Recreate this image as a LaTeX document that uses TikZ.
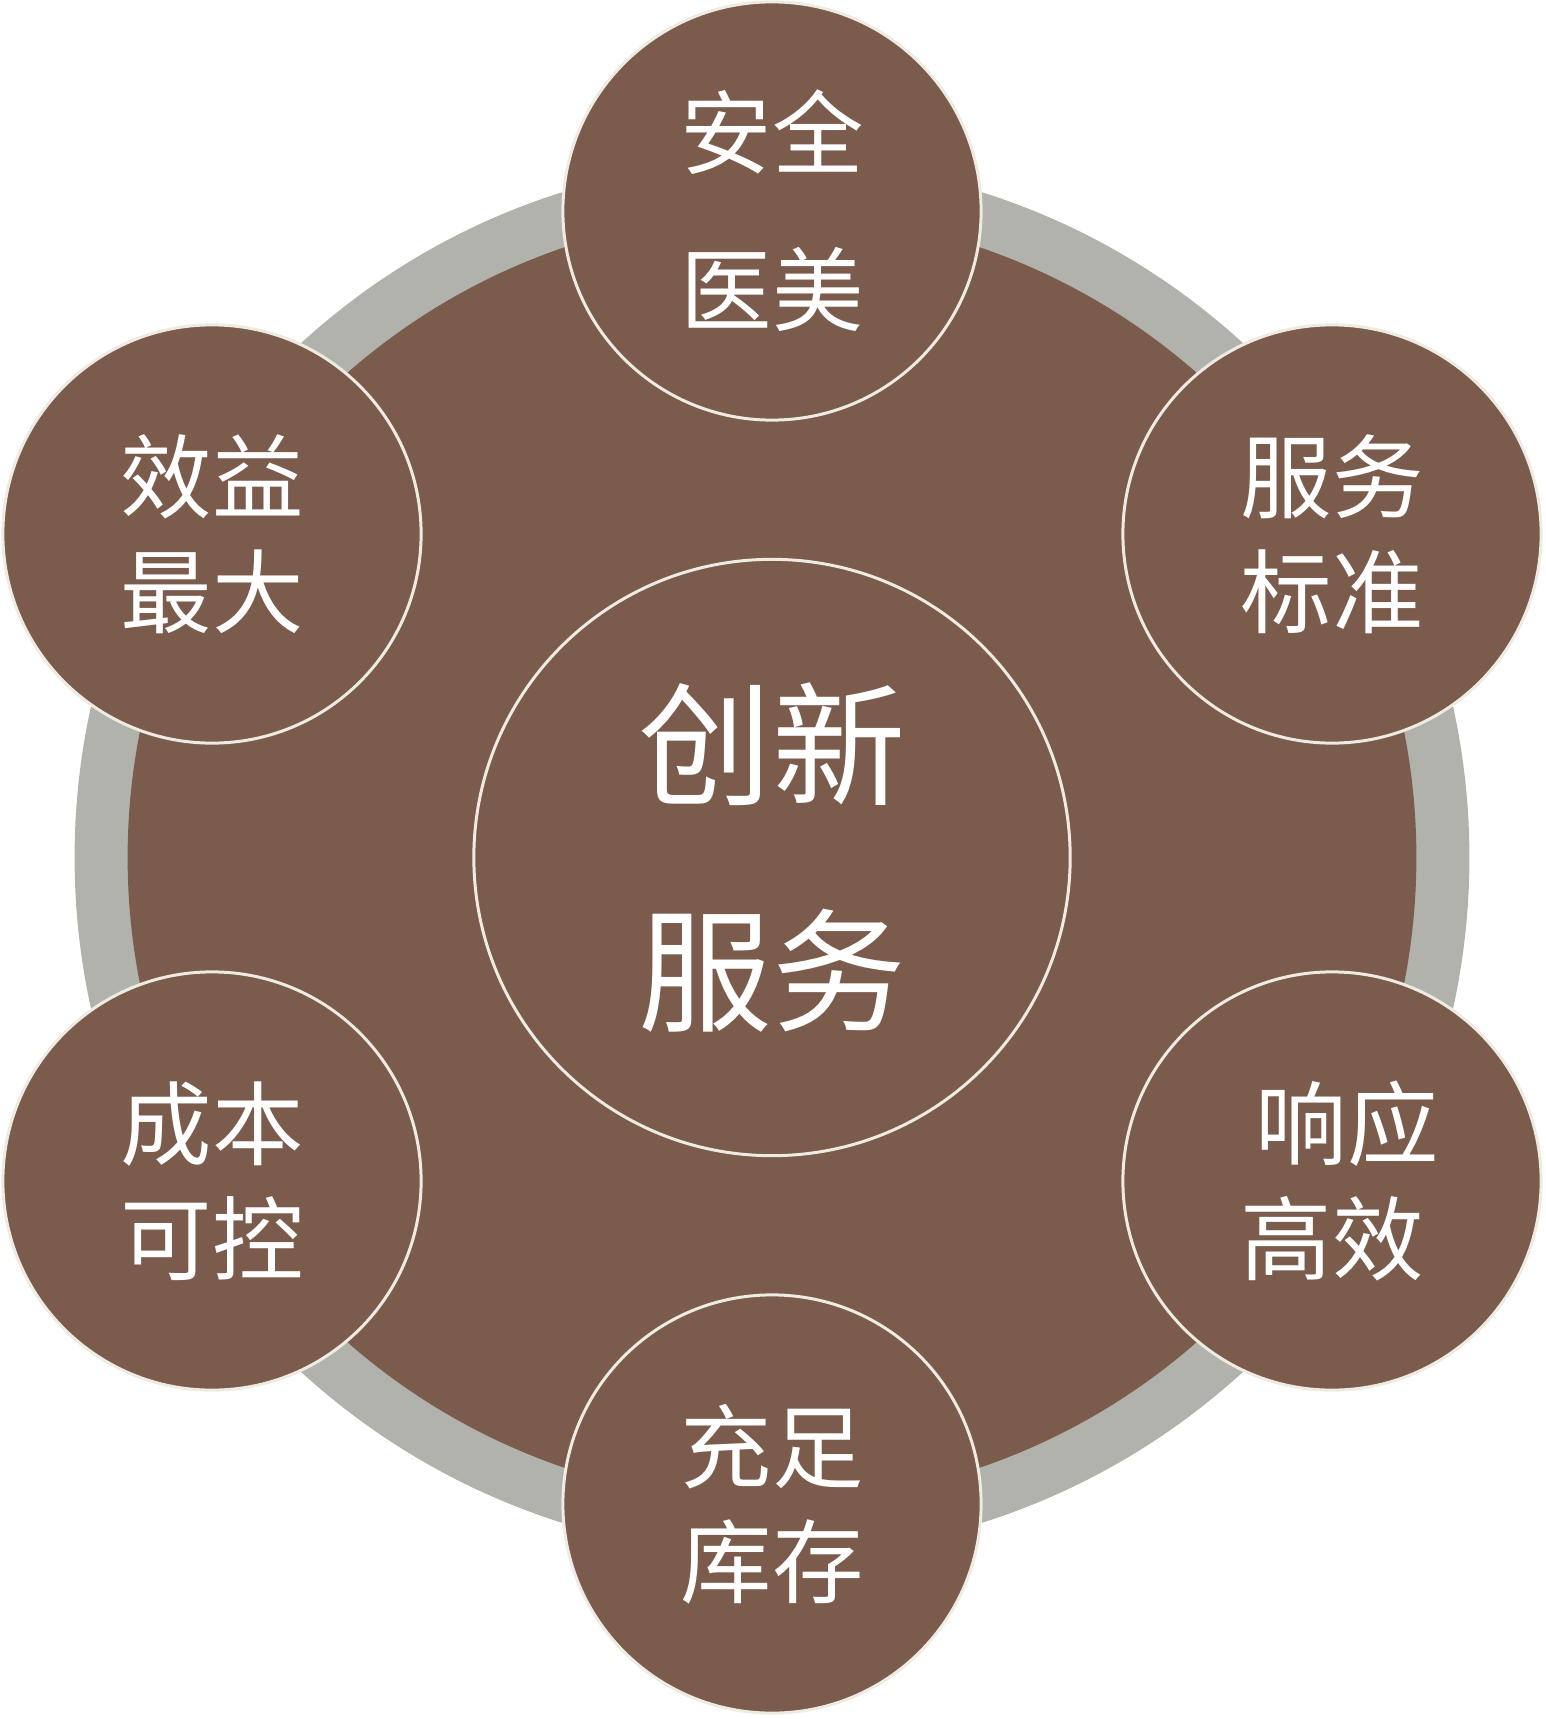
\documentclass[tikz,border=0pt]{standalone}
\usepackage{fontspec}
\setmainfont{Noto Sans CJK SC}
\definecolor{brownf}{HTML}{7B5B4B}
\definecolor{ringg}{HTML}{B1B2AC}
\definecolor{rimc}{HTML}{EEEBE2}
\tikzset{
  petal/.style={circle, inner sep=0pt, minimum size=4.18cm, fill=brownf, draw=rimc, line width=0.85pt, text=white, align=center, font=\fontsize{26pt}{32.7pt}\selectfont},
  hub/.style={circle, inner sep=0pt, minimum size=5.96cm, fill=brownf, draw=rimc, line width=0.85pt, text=white, align=center, font=\fontsize{38pt}{64pt}\selectfont},
}
\begin{document}
\begin{tikzpicture}[x=0.01cm,y=-0.01cm]
\useasboundingbox (0,0) rectangle (1545,1719);
\node[circle, inner sep=0pt, minimum size=13.94cm, fill=ringg] (ring) at (772,857.5) {};
\node[circle, inner sep=0pt, minimum size=12.88cm, fill=brownf] (disc) at (772,857.5) {};
\node[hub] (c) at (772,857.5) {创新\\服务};
\node[petal, font=\fontsize{26pt}{44.7pt}\selectfont] (s1) at (772,211) {安全\\医美};
\node[petal] (s2) at (1332,534) {服务\\标准};
\node[petal] (s3) at (1332,1181) {\hspace*{0.3cm}响应\\高效};
\node[petal] (s4) at (772,1504) {充足\\库存};
\node[petal] (s5) at (212,1181) {成本\\可控};
\node[petal] (s6) at (212,534) {效益\\最大};
\end{tikzpicture}
\end{document}
